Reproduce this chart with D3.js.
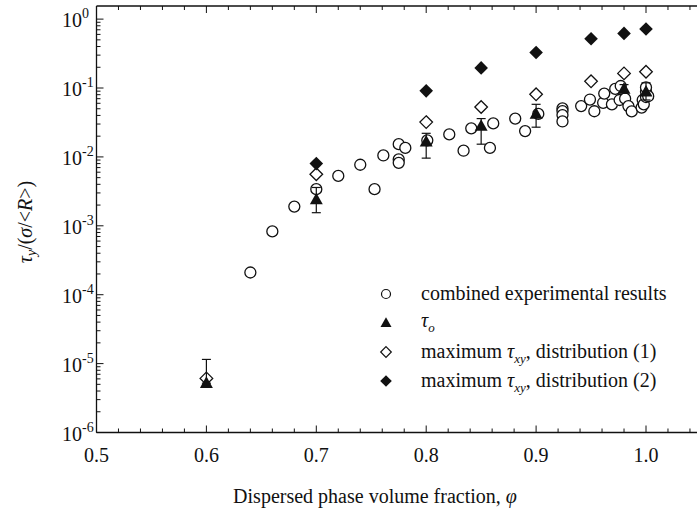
<!DOCTYPE html>
<html><head><meta charset="utf-8">
<script src="https://cdn.jsdelivr.net/npm/d3@7"></script>
<style>body{margin:0;background:#fff}svg{display:block}svg text{font-family:'Liberation Serif','Times New Roman',Times,'DejaVu Serif',serif;fill:#111}</style>
</head><body><svg id="c" width="697" height="510" font-family="Liberation Serif, Times New Roman, DejaVu Serif, serif"></svg>
<script>
// ---- data ----
const circPhi = [0.640,0.660,0.680,0.700,0.720,0.740,0.753,0.761,0.775,0.775,0.775,0.781,0.801,0.821,0.834,0.841,0.858,0.861,0.881,0.890,0.902,0.924,0.924,0.924,0.924,0.941,0.949,0.953,0.961,0.962,0.969,0.972,0.976,0.977,0.981,0.984,0.987,0.996,0.997,0.998,1.000,1.000,1.000,1.002];
const circVal = [2.1e-4,8.3e-4,1.9e-3,3.4e-3,5.3e-3,7.7e-3,3.4e-3,1.05e-2,1.53e-2,9.2e-3,8.2e-3,1.35e-2,1.74e-2,2.12e-2,1.23e-2,2.6e-2,1.35e-2,3.06e-2,3.6e-2,2.37e-2,4.2e-2,5.06e-2,4.62e-2,4.05e-2,3.27e-2,5.46e-2,6.8e-2,4.6e-2,6.1e-2,8.3e-2,5.8e-2,9.7e-2,6.7e-2,0.107,7.0e-2,5.46e-2,4.57e-2,5.2e-2,6.7e-2,5.8e-2,7.4e-2,8.8e-2,0.102,7.6e-2];
const tauPhi = [0.6,0.7,0.8,0.85,0.9,0.98,1.0];
const tauVal = [5.2e-6,2.4e-3,1.66e-2,2.8e-2,4.2e-2,0.097,8.8e-2];
const tauLo  = [5.2e-6,1.55e-3,9.6e-3,1.53e-2,2.7e-2,0.085,6.7e-2];
const tauHi  = [1.15e-5,3.6e-3,2.2e-2,3.6e-2,5.8e-2,0.112,0.119];
const d1Phi = [0.6,0.7,0.8,0.85,0.9,0.95,0.98,1.0];
const d1Val = [6.1e-6,5.6e-3,3.2e-2,5.3e-2,8.1e-2,0.125,0.163,0.172];
const d2Phi = [0.7,0.8,0.85,0.9,0.95,0.98,1.0];
const d2Val = [8.0e-3,9.1e-2,0.196,0.328,0.519,0.62,0.72];
const xTicks = [0.5,0.6,0.7,0.8,0.9,1.0];
const xTickLabels = ["0.5","0.6","0.7","0.8","0.9","1.0"];
const yExps = [0,-1,-2,-3,-4,-5,-6];
const legendItems = ["combined experimental results","τo","maximum τxy, distribution (1)","maximum τxy, distribution (2)"];

// ---- layout ----
const svg = d3.select("#c");
const L = 96.5, T = 6, B = 432.5;
const x = d3.scaleLinear().domain([0.5,1.05]).range([L, L + 0.55*1099]);
const y = d3.scaleLog().domain([1e-6,1.55]).range([B, T]);
const R = x(1.05);
const ink = "#111";

// frame
svg.append("line").attr("x1",L).attr("x2",R).attr("y1",B).attr("y2",B).attr("stroke",ink).attr("stroke-width",1.3);
svg.append("line").attr("x1",L).attr("x2",R).attr("y1",T).attr("y2",T).attr("stroke",ink).attr("stroke-width",1.3);
svg.append("line").attr("x1",L).attr("x2",L).attr("y1",T).attr("y2",B).attr("stroke",ink).attr("stroke-width",1.3);

// x ticks (inward) bottom and top
const xMinor = d3.range(0.5,1.0501,0.02).map(v=>+v.toFixed(3));
xMinor.forEach(v=>{
  const major = xTicks.some(t=>Math.abs(t-v)<1e-6);
  const len = major?7:4;
  svg.append("line").attr("x1",x(v)).attr("x2",x(v)).attr("y1",B).attr("y2",B-len).attr("stroke",ink).attr("stroke-width",1);
  svg.append("line").attr("x1",x(v)).attr("x2",x(v)).attr("y1",T).attr("y2",T+len).attr("stroke",ink).attr("stroke-width",1);
});
xTicks.forEach((v,i)=>{
  svg.append("text").attr("x",x(v)).attr("y",B+29.5).attr("text-anchor","middle").attr("font-size",20).text(xTickLabels[i]);
});

// y ticks
yExps.forEach(e=>{
  const v = Math.pow(10,e);
  svg.append("line").attr("x1",L).attr("x2",L+7).attr("y1",y(v)).attr("y2",y(v)).attr("stroke",ink).attr("stroke-width",1);
  if (e<0) for (let k=2;k<=9;k++){
    const m = k*v;
    svg.append("line").attr("x1",L).attr("x2",L+4).attr("y1",y(m)).attr("y2",y(m)).attr("stroke",ink).attr("stroke-width",1);
  }
  const t = svg.append("text").attr("x",62).attr("y",y(v)+8).attr("font-size",20);
  t.append("tspan").text("10");
  t.append("tspan").attr("dy",-9).attr("font-size",14).text(String(e));
});

// axis labels
const xl = svg.append("text").attr("x",375).attr("y",503).attr("text-anchor","middle").attr("font-size",20);
xl.append("tspan").text("Dispersed phase volume fraction, ");
xl.append("tspan").attr("font-style","italic").text("φ");

const yl = svg.append("text").attr("transform","translate(32,222) rotate(-90)").attr("text-anchor","middle").attr("font-size",20);
yl.append("tspan").attr("font-style","italic").text("τ");
yl.append("tspan").attr("font-style","italic").attr("font-size",14).attr("dy",4).text("y");
yl.append("tspan").attr("dy",-4).text("/(");
yl.append("tspan").attr("font-style","italic").text("σ");
yl.append("tspan").text("/<");
yl.append("tspan").attr("font-style","italic").text("R");
yl.append("tspan").text(">)");

// ---- marks ----
const g = svg.append("g");
const diamond = (cx,cy,s)=>`M${cx},${cy-s}L${cx+s},${cy}L${cx},${cy+s}L${cx-s},${cy}Z`;
const tri = (cx,cy,s)=>`M${cx},${cy-s}L${cx+s*0.95},${cy+s*0.7}L${cx-s*0.95},${cy+s*0.7}Z`;

// circles
g.selectAll("circle.exp").data(circPhi.map((p,i)=>[p,circVal[i]])).join("circle")
  .attr("cx",d=>x(d[0])).attr("cy",d=>y(d[1])).attr("r",5.5)
  .attr("fill","#fff").attr("stroke",ink).attr("stroke-width",1.3);
// open diamonds
g.selectAll("path.d1").data(d1Phi.map((p,i)=>[p,d1Val[i]])).join("path")
  .attr("d",d=>diamond(x(d[0]),y(d[1]),6.3)).attr("fill","#fff").attr("stroke",ink).attr("stroke-width",1.3);
// error bars
tauPhi.forEach((p,i)=>{
  const cx=x(p), y1=y(tauHi[i]), y2=y(tauLo[i]);
  g.append("line").attr("x1",cx).attr("x2",cx).attr("y1",y1).attr("y2",y2).attr("stroke",ink).attr("stroke-width",1.2);
  g.append("line").attr("x1",cx-4.5).attr("x2",cx+4.5).attr("y1",y1).attr("y2",y1).attr("stroke",ink).attr("stroke-width",1.2);
  g.append("line").attr("x1",cx-4.5).attr("x2",cx+4.5).attr("y1",y2).attr("y2",y2).attr("stroke",ink).attr("stroke-width",1.2);
});
// triangles
g.selectAll("path.tau").data(tauPhi.map((p,i)=>[p,tauVal[i]])).join("path")
  .attr("d",d=>tri(x(d[0]),y(d[1]),6.8)).attr("fill",ink);
// filled diamonds
g.selectAll("path.d2").data(d2Phi.map((p,i)=>[p,d2Val[i]])).join("path")
  .attr("d",d=>diamond(x(d[0]),y(d[1]),6.8)).attr("fill",ink);

// ---- legend ----
const lx = 386, tx = 421, ly0 = 294, ldy = 29;
const lg = svg.append("g");
lg.append("circle").attr("cx",lx).attr("cy",ly0).attr("r",4.5).attr("fill","#fff").attr("stroke",ink).attr("stroke-width",1.2);
lg.append("path").attr("d",tri(lx,ly0+ldy,5.8)).attr("fill",ink);
lg.append("path").attr("d",diamond(lx,ly0+2*ldy,5.3)).attr("fill","#fff").attr("stroke",ink).attr("stroke-width",1.2);
lg.append("path").attr("d",diamond(lx,ly0+3*ldy,5.8)).attr("fill",ink);
const fs = 20;
lg.append("text").attr("x",tx).attr("y",ly0+6).attr("font-size",fs).text(legendItems[0]);
const t2 = lg.append("text").attr("x",tx).attr("y",ly0+ldy+4).attr("font-size",fs);
t2.append("tspan").attr("font-style","italic").text("τ");
t2.append("tspan").attr("font-style","italic").attr("font-size",13).attr("dy",5).text("o");
[2,3].forEach(i=>{
  const t = lg.append("text").attr("x",tx).attr("y",ly0+i*ldy+6).attr("font-size",fs);
  t.append("tspan").text("maximum ");
  t.append("tspan").attr("font-style","italic").text("τ");
  t.append("tspan").attr("font-style","italic").attr("font-size",13).attr("dy",5).text("xy");
  t.append("tspan").attr("dy",-5).text(i===2?", distribution (1)":", distribution (2)");
});
</script></body></html>
